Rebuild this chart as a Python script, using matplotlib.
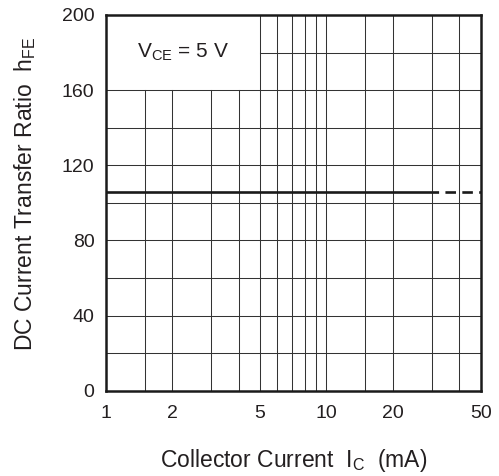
import matplotlib
matplotlib.use('Agg')
import matplotlib.pyplot as plt
import numpy as np

plt.rcParams['font.family'] = ['Liberation Sans', 'DejaVu Sans']
plt.rcParams['mathtext.default'] = 'regular'

TEXT = '#231f20'

# hFE curve: flat, solid up to 30 mA then dashed to 50 mA
ic_solid = [1, 30]
hfe_solid = [106, 106]
ic_dash = [30, 50]
hfe_dash = [106, 106]

# grid lines and tick labels
x_grid = [1.5, 2, 3, 4, 5, 6, 7, 8, 9, 10, 15, 20, 30, 40]
y_grid = [20, 40, 60, 80, 100, 120, 140, 160, 180]
x_ticks = [1, 2, 5, 10, 20, 50]
x_labels = ['1', '2', '5', '10', '20', '50']
y_ticks = [0, 40, 80, 120, 160, 200]

# region kept clear for the condition label (x from 1 to 5, y from 160 to 200)
box_x = [1, 5]
box_y = [160, 200]

fig = plt.figure(figsize=(4.99, 4.76), dpi=100)
ax = fig.add_axes([0.2118, 0.1792, 0.7515, 0.7893])
ax.set_xscale('log')
ax.set_xlim(1, 50)
ax.set_ylim(0, 200)

# grid, skipping the label box
for x in x_grid:
    if box_x[0] < x < box_x[1]:
        ax.plot([x, x], [0, box_y[0]], color='#333333', lw=0.75, zorder=1)
    else:
        ax.plot([x, x], [0, 200], color='#333333', lw=0.75, zorder=1)
for y in y_grid:
    if box_y[0] < y < box_y[1]:
        ax.plot([box_x[1], 50], [y, y], color='#333333', lw=0.75, zorder=1)
    else:
        ax.plot([1, 50], [y, y], color='#333333', lw=0.75, zorder=1)

ax.plot(ic_solid, hfe_solid, color='#1a1a1a', lw=1.9, solid_capstyle='butt', zorder=3)
ax.plot(ic_dash, hfe_dash, color='#1a1a1a', lw=1.9, linestyle=(1.5, (4, 2.4)), zorder=3)

ax.text(np.sqrt(box_x[0] * box_x[1]), 180, 'V$_{CE}$ = 5 V', ha='center', va='center',
        fontsize=15, color=TEXT)

ax.set_xticks(x_ticks)
ax.set_xticklabels(x_labels)
ax.xaxis.set_minor_locator(matplotlib.ticker.NullLocator())
ax.set_yticks(y_ticks)
ax.tick_params(axis='both', length=0, labelsize=14, colors=TEXT)
ax.tick_params(axis='x', pad=10)
ax.tick_params(axis='y', pad=8)

for s in ax.spines.values():
    s.set_linewidth(1.8)
    s.set_color('#1a1a1a')
    s.set_zorder(4)

ax.set_xlabel('Collector Current  I$_C$  (mA)', fontsize=16.5, color=TEXT)
ax.set_ylabel('DC Current Transfer Ratio  h$_{FE}$', fontsize=16.5, color=TEXT)
ax.xaxis.set_label_coords(0.5, -0.15)
ax.yaxis.set_label_coords(-0.18, 0.525)

fig.savefig('out.png', dpi=100)
